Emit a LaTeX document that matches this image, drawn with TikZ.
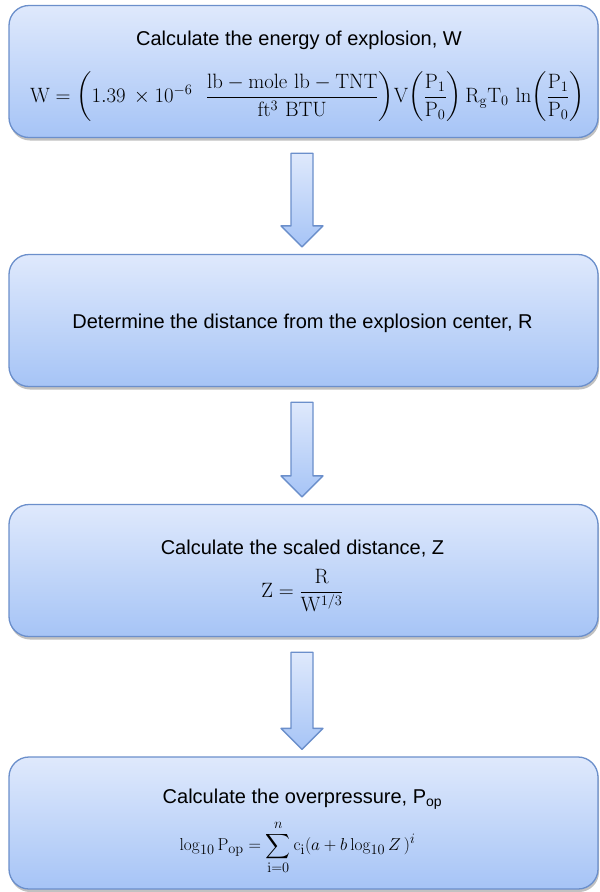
\documentclass[tikz,border=0pt]{standalone}
\usepackage[no-math]{fontspec}
\usepackage{amsmath}
\newfontfamily\arial{Liberation Sans}
\usetikzlibrary{shadows,calc}
\definecolor{boxtop}{HTML}{DFE9FC}
\definecolor{boxbot}{HTML}{A6C4F6}
\definecolor{boxline}{HTML}{6B8FCB}
\newcommand\flowarrow[2]{%
  \path[arrowfill]
    ($(#1.south)+(-12.5,15)$) --
    ($(#2.north)+(-12.5,-28)$) --
    ($(#2.north)+(-22.5,-28)$) --
    ($(#2.north)+(-1.5,-7)$) --
    ($(#2.north)+(19.5,-28)$) --
    ($(#2.north)+(9.5,-28)$) --
    ($(#1.south)+(9.5,15)$) -- cycle;}
\begin{document}
\begin{tikzpicture}[x=1pt,y=-1pt,
  stepbox/.style={rectangle, rounded corners=20pt, draw=boxline, line width=1.3pt,
    top color=boxtop, bottom color=boxbot, minimum width=589pt, minimum height=132pt,
    inner sep=0pt,
    drop shadow={shadow xshift=1pt, shadow yshift=-3pt, opacity=0.35, fill=black!70}},
  titletext/.style={inner sep=0pt, font=\arial\fontsize{20}{24}\selectfont},
  mathtext/.style={inner sep=0pt},
  arrowfill/.style={draw=boxline, line width=1.3pt, line join=round,
    top color=boxtop, bottom color=boxbot}]
\useasboundingbox (0,0) rectangle (600,892);
\node[stepbox] (b1) at (303.5,71.5) {};
\node[stepbox] (b2) at (303.5,320.5) {};
\node[stepbox] (b3) at (303.5,570.5) {};
\node[stepbox] (b4) at (303.5,823) {};
\node[titletext] (t1) at ($(b1.center)+(-4.5,-31.5)$) {Calculate the energy of explosion, W};
\node[mathtext] (f1) at ($(b1.center)+(4,25.5)$) {\fontsize{22.5}{26}\selectfont $\mathrm{W} = \left(1.39\,\times10^{-6}\ \ \dfrac{\mathrm{lb-mole\ lb-TNT}}{\mathrm{ft^3\ BTU}}\right)\!\mathrm{V}\!\left(\dfrac{\mathrm{P_1}}{\mathrm{P_0}}\right)\mathrm{R_g T_0}\,\ln\!\left(\dfrac{\mathrm{P_1}}{\mathrm{P_0}}\right)$};
\node[titletext] (t2) at ($(b2.center)+(-1,2.5)$) {Determine the distance from the explosion center, R};
\node[titletext] (t3) at ($(b3.center)+(-1,-21.5)$) {Calculate the scaled distance, Z};
\node[mathtext] (f3) at ($(b3.center)+(-1,20)$) {\fontsize{22}{26}\selectfont $\mathrm{Z} = \dfrac{\mathrm{R}}{\mathrm{W}^{1/3}}$};
\node[titletext] (t4) at ($(b4.center)+(-1,-23.5)$) {Calculate the overpressure, P\textsubscript{op}};
\node[mathtext] (f4) at ($(b4.center)+(-6,24.5)$) {\fontsize{19}{22}\selectfont $\log_{10}\mathrm{P_{op}} = \displaystyle\sum_{\mathrm{i}=0}^{n} \mathrm{c_i}(a + b\log_{10}Z\,)^{i}$};
\flowarrow{b1}{b2}
\flowarrow{b2}{b3}
\flowarrow{b3}{b4}
\end{tikzpicture}
\end{document}
